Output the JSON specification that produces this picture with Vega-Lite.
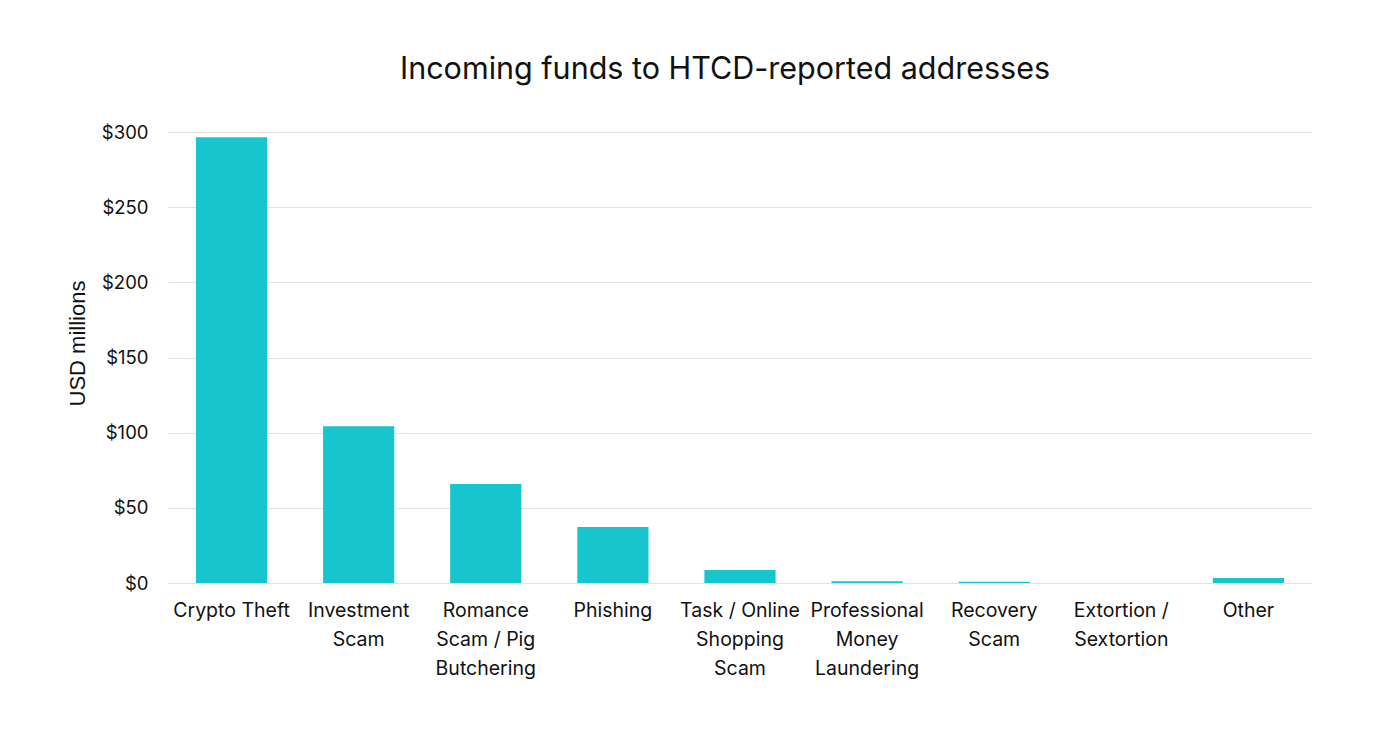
{
  "$schema": "https://vega.github.io/schema/vega-lite/v6.json",
  "autosize": {"type": "none"},
  "width": 1144,
  "height": 451,
  "padding": {"left": 168, "top": 132, "right": 88, "bottom": 150},
  "background": "white",
  "title": {
    "text": "Incoming funds to HTCD-reported addresses",
    "font": "Inter",
    "fontSize": 30.5,
    "fontWeight": 400,
    "color": "#111111",
    "anchor": "middle",
    "dx": -15,
    "offset": 38
  },
  "data": {
    "values": [
      {"category": "Crypto Theft", "usd": 296.5},
      {"category": "Investment Scam", "usd": 104.3},
      {"category": "Romance Scam / Pig Butchering", "usd": 65.8},
      {"category": "Phishing", "usd": 37.2},
      {"category": "Task / Online Shopping Scam", "usd": 8.6},
      {"category": "Professional Money Laundering", "usd": 1.1},
      {"category": "Recovery Scam", "usd": 0.8},
      {"category": "Extortion / Sextortion", "usd": 0.05},
      {"category": "Other", "usd": 3.4}
    ]
  },
  "mark": {"type": "bar", "color": "#17C5CF"},
  "encoding": {
    "x": {
      "field": "category",
      "type": "nominal",
      "sort": null,
      "scale": {"paddingInner": 0.44, "paddingOuter": 0.22},
      "axis": {
        "title": null,
        "labelAngle": 0,
        "labelFont": "Inter",
        "labelFontSize": 19.5,
        "labelColor": "#111111",
        "labelLineHeight": 29,
        "labelPadding": 18,
        "labelBaseline": "top",
        "labelLimit": 200,
        "ticks": false,
        "domain": false,
        "labelExpr": "datum.value == 'Investment Scam' ? ['Investment', 'Scam'] : datum.value == 'Romance Scam / Pig Butchering' ? ['Romance', 'Scam / Pig', 'Butchering'] : datum.value == 'Task / Online Shopping Scam' ? ['Task / Online', 'Shopping', 'Scam'] : datum.value == 'Professional Money Laundering' ? ['Professional', 'Money', 'Laundering'] : datum.value == 'Recovery Scam' ? ['Recovery', 'Scam'] : datum.value == 'Extortion / Sextortion' ? ['Extortion /', 'Sextortion'] : datum.value"
      }
    },
    "y": {
      "field": "usd",
      "type": "quantitative",
      "scale": {"domain": [0, 300], "nice": false},
      "axis": {
        "title": "USD millions",
        "titleFont": "Liberation Sans",
        "titleFontSize": 22,
        "titleFontWeight": 400,
        "titleColor": "#111111",
        "titleY": 211,
        "titlePadding": 12,
        "values": [0, 50, 100, 150, 200, 250, 300],
        "labelExpr": "'$' + datum.value",
        "labelFont": "Inter",
        "labelFontSize": 18.5,
        "labelColor": "#111111",
        "labelPadding": 20,
        "ticks": false,
        "domain": false,
        "grid": true,
        "gridColor": "#e2e2e2",
        "gridWidth": 1.2
      }
    }
  },
  "config": {"view": {"stroke": null}}
}
